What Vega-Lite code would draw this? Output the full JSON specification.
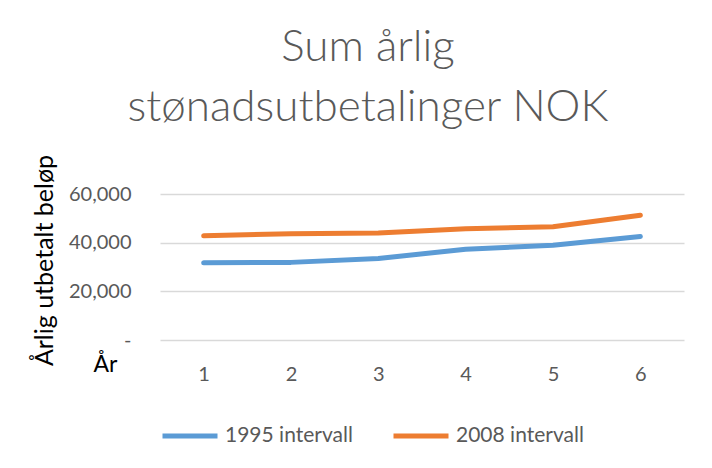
{
  "$schema": "https://vega.github.io/schema/vega-lite/v6.json",
  "width": 524,
  "height": 146,
  "autosize": {"type": "none"},
  "padding": {"left": 160, "top": 194, "right": 28, "bottom": 128},
  "background": "white",
  "title": {
    "text": ["Sum årlig", "stønadsutbetalinger NOK"],
    "font": "Lato",
    "fontSize": 44,
    "fontWeight": 300,
    "color": "#595959",
    "lineHeight": 60,
    "anchor": "middle",
    "dx": -54,
    "offset": 24
  },
  "data": {
    "values": [
      {"år": 1, "serie": "1995 intervall", "beløp": 31700},
      {"år": 2, "serie": "1995 intervall", "beløp": 31900},
      {"år": 3, "serie": "1995 intervall", "beløp": 33500},
      {"år": 4, "serie": "1995 intervall", "beløp": 37300},
      {"år": 5, "serie": "1995 intervall", "beløp": 38900},
      {"år": 6, "serie": "1995 intervall", "beløp": 42500},
      {"år": 1, "serie": "2008 intervall", "beløp": 42800},
      {"år": 2, "serie": "2008 intervall", "beløp": 43700},
      {"år": 3, "serie": "2008 intervall", "beløp": 44000},
      {"år": 4, "serie": "2008 intervall", "beløp": 45700},
      {"år": 5, "serie": "2008 intervall", "beløp": 46500},
      {"år": 6, "serie": "2008 intervall", "beløp": 51300}
    ]
  },
  "mark": {"type": "line", "strokeWidth": 5, "strokeCap": "round", "strokeJoin": "round"},
  "encoding": {
    "x": {
      "field": "år",
      "type": "ordinal",
      "scale": {"type": "point", "padding": 0.5},
      "axis": {
        "title": "År",
        "titleFont": "Lato",
        "titleFontSize": 23,
        "titleFontWeight": "normal",
        "titleColor": "#000000",
        "titleX": -55,
        "titleY": 31,
        "titleAlign": "center",
        "titleBaseline": "alphabetic",
        "labelAngle": 0,
        "labelFont": "Lato",
        "labelFontSize": 20,
        "labelColor": "#595959",
        "labelPadding": 24,
        "domain": false,
        "ticks": false,
        "grid": false
      }
    },
    "y": {
      "field": "beløp",
      "type": "quantitative",
      "scale": {"domain": [0, 60000], "nice": false},
      "axis": {
        "title": "Årlig utbetalt beløp",
        "titleFont": "Lato",
        "titleFontSize": 25,
        "titleFontWeight": "normal",
        "titleColor": "#000000",
        "titleX": -116,
        "titleY": 66,
        "titleAlign": "center",
        "titleBaseline": "middle",
        "values": [0, 20000, 40000, 60000],
        "labelExpr": "datum.value == 0 ? '-' : format(datum.value, ',')",
        "labelFont": "Lato",
        "labelFontSize": 20,
        "labelColor": "#595959",
        "labelPadding": 29,
        "domain": false,
        "ticks": false,
        "grid": true,
        "gridColor": "#d9d9d9",
        "gridWidth": 1.3
      }
    },
    "color": {
      "field": "serie",
      "type": "nominal",
      "scale": {"domain": ["1995 intervall", "2008 intervall"], "range": ["#5B9BD5", "#ED7D31"]},
      "legend": {
        "title": null,
        "orient": "none",
        "legendX": 0,
        "legendY": 212,
        "direction": "horizontal",
        "symbolType": "stroke",
        "symbolSize": 3025,
        "symbolStrokeWidth": 5,
        "labelFont": "Lato",
        "labelFontSize": 21,
        "labelColor": "#595959",
        "labelOffset": 5,
        "columnPadding": 30
      }
    }
  },
  "config": {"view": {"stroke": null}}
}
